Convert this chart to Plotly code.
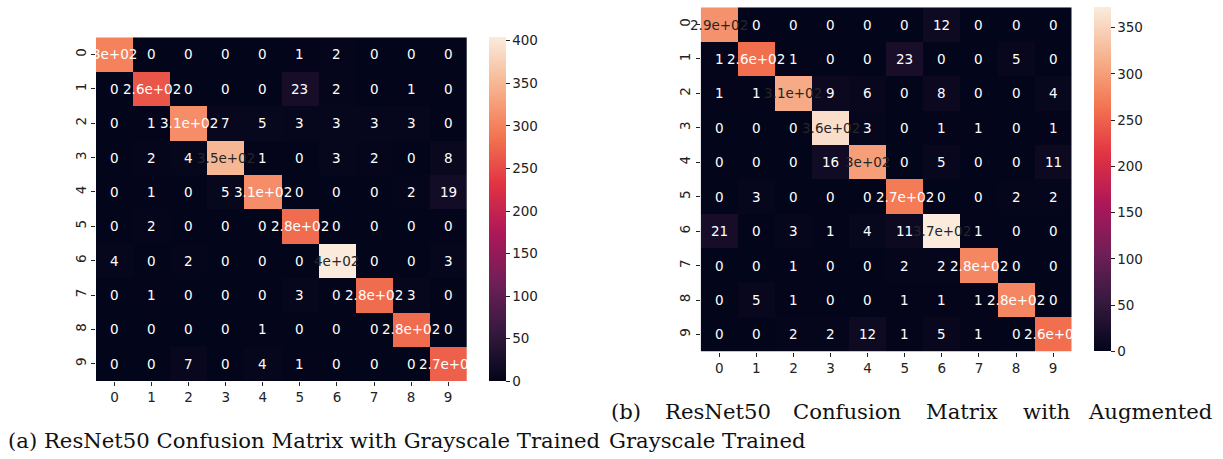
import plotly.graph_objects as go

# Confusion matrices (rows = true digit, columns = predicted digit)
digits = [0, 1, 2, 3, 4, 5, 6, 7, 8, 9]

grayscale_cm = [
    [300, 0, 0, 0, 0, 1, 2, 0, 0, 0],
    [0, 260, 0, 0, 0, 23, 2, 0, 1, 0],
    [0, 1, 310, 7, 5, 3, 3, 3, 3, 0],
    [0, 2, 4, 350, 1, 0, 3, 2, 0, 8],
    [0, 1, 0, 5, 310, 0, 0, 0, 2, 19],
    [0, 2, 0, 0, 0, 280, 0, 0, 0, 0],
    [4, 0, 2, 0, 0, 0, 404, 0, 0, 3],
    [0, 1, 0, 0, 0, 3, 0, 280, 3, 0],
    [0, 0, 0, 0, 1, 0, 0, 0, 280, 0],
    [0, 0, 7, 0, 4, 1, 0, 0, 0, 270],
]

augmented_cm = [
    [290, 0, 0, 0, 0, 0, 12, 0, 0, 0],
    [1, 260, 1, 0, 0, 23, 0, 0, 5, 0],
    [1, 1, 310, 9, 6, 0, 8, 0, 0, 4],
    [0, 0, 0, 360, 3, 0, 1, 1, 0, 1],
    [0, 0, 0, 16, 300, 0, 5, 0, 0, 11],
    [0, 3, 0, 0, 0, 270, 0, 0, 2, 2],
    [21, 0, 3, 1, 4, 11, 372, 1, 0, 0],
    [0, 0, 1, 0, 0, 2, 2, 280, 0, 0],
    [0, 5, 1, 0, 0, 1, 1, 1, 280, 0],
    [0, 0, 2, 2, 12, 1, 5, 1, 0, 260],
]

grayscale_cbar_ticks = [0, 50, 100, 150, 200, 250, 300, 350, 400]
augmented_cbar_ticks = [0, 50, 100, 150, 200, 250, 300, 350]

caption_a = "(a) ResNet50 Confusion Matrix with Grayscale Trained"
caption_b_words = ["(b)", "ResNet50", "Confusion", "Matrix", "with", "Augmented"]
caption_b_tail = "Grayscale Trained"

# seaborn "rocket" colormap
rocket = [
    [0.0, "#03051a"],
    [1 / 7, "#35193e"],
    [2 / 7, "#701f57"],
    [3 / 7, "#ad1759"],
    [4 / 7, "#e13342"],
    [5 / 7, "#f37651"],
    [6 / 7, "#f6b48f"],
    [1.0, "#faebdd"],
]

W, H = 1223, 459
TEXT = "#222222"
DARK_TEXT = "#262626"


def hex_rgb(h):
    h = h.lstrip("#")
    return [int(h[i:i + 2], 16) for i in (0, 2, 4)]


def scale_color(t):
    for (p0, c0), (p1, c1) in zip(rocket[:-1], rocket[1:]):
        if t <= p1:
            f = 0 if p1 == p0 else (t - p0) / (p1 - p0)
            a, b = hex_rgb(c0), hex_rgb(c1)
            return [a[i] + (b[i] - a[i]) * f for i in range(3)]
    return hex_rgb(rocket[-1][1])


def luminance(rgb):
    lin = []
    for c in rgb:
        c = c / 255
        lin.append(c / 12.92 if c <= 0.03928 else ((c + 0.055) / 1.055) ** 2.4)
    return 0.2126 * lin[0] + 0.7152 * lin[1] + 0.0722 * lin[2]


def px_x(p):
    return p / W


def px_y(p):
    return 1 - p / H


fig = go.Figure()
annotations = []

panels = [
    # matrix, cbar ticks, axis suffix, heatmap box (left, top, right, bottom), cbar left
    (grayscale_cm, grayscale_cbar_ticks, "", (96.0, 37.3, 466.7, 381.0), 489.3),
    (augmented_cm, augmented_cbar_ticks, "2", (700.7, 7.3, 1071.7, 351.7), 1094.3),
]

layout_axes = {}
for cm, cticks, sfx, (l, t, r, b), cb_left in panels:
    zmax = max(max(row) for row in cm)
    fig.add_trace(go.Heatmap(
        z=cm, x=digits, y=digits,
        zmin=0, zmax=zmax,
        colorscale=rocket,
        xaxis="x" + sfx, yaxis="y" + sfx,
        hoverinfo="skip",
        colorbar=dict(
            x=px_x(cb_left), xref="paper", xanchor="left",
            y=px_y(t), yref="paper", yanchor="top",
            lenmode="pixels", len=b - t,
            thicknessmode="pixels", thickness=17.4,
            xpad=0, ypad=0, outlinewidth=0,
            tickvals=cticks, ticks="outside", ticklen=4,
            tickcolor=TEXT, tickwidth=1,
            tickfont=dict(family="DejaVu Sans", size=13.5, color=TEXT),
        ),
    ))
    layout_axes["xaxis" + sfx] = dict(
        domain=[px_x(l), px_x(r)], anchor="y" + sfx,
        range=[-0.5, 9.5], tickvals=digits, ticks="outside", ticklen=4,
        tickcolor=TEXT, tickwidth=1, showgrid=False, zeroline=False,
        showline=False, tickfont=dict(family="DejaVu Sans", size=13.5, color=TEXT),
    )
    layout_axes["yaxis" + sfx] = dict(
        domain=[px_y(b), px_y(t)], anchor="x" + sfx,
        range=[9.5, -0.5], tickvals=digits, ticks="outside", ticklen=4,
        tickcolor=TEXT, tickwidth=1, showgrid=False, zeroline=False,
        showline=False, tickangle=-90,
        tickfont=dict(family="DejaVu Sans", size=13.5, color=TEXT),
    )
    # cell value labels, coloured against the cell luminance
    for i, row in enumerate(cm):
        for j, v in enumerate(row):
            lum = luminance(scale_color(v / zmax))
            annotations.append(dict(
                x=digits[j], y=digits[i], xref="x" + sfx, yref="y" + sfx,
                text=format(v, ".2g"), showarrow=False,
                font=dict(family="DejaVu Sans", size=13.5,
                          color=DARK_TEXT if lum > 0.408 else "#ffffff"),
            ))

# captions
cap_font = dict(family="DejaVu Serif", size=21.2, color="#111111")
annotations.append(dict(x=px_x(6), y=px_y(440), xref="paper", yref="paper",
                        xanchor="left", yanchor="middle", text=caption_a,
                        showarrow=False, font=cap_font))
annotations.append(dict(x=px_x(607), y=px_y(440), xref="paper", yref="paper",
                        xanchor="left", yanchor="middle", text=caption_b_tail,
                        showarrow=False, font=cap_font))
word_pos = [(609, "left"), (717.5, "center"), (847.5, "center"),
            (961.5, "center"), (1046.5, "center"), (1214, "right")]
for word, (xp, anc) in zip(caption_b_words, word_pos):
    annotations.append(dict(x=px_x(xp), y=px_y(411), xref="paper", yref="paper",
                            xanchor=anc, yanchor="middle", text=word,
                            showarrow=False, font=cap_font))

fig.update_layout(
    width=W, height=H,
    margin=dict(l=0, r=0, t=0, b=0),
    paper_bgcolor="white", plot_bgcolor="white",
    showlegend=False,
    annotations=annotations,
    **layout_axes,
)

fig.write_html("out.html")
